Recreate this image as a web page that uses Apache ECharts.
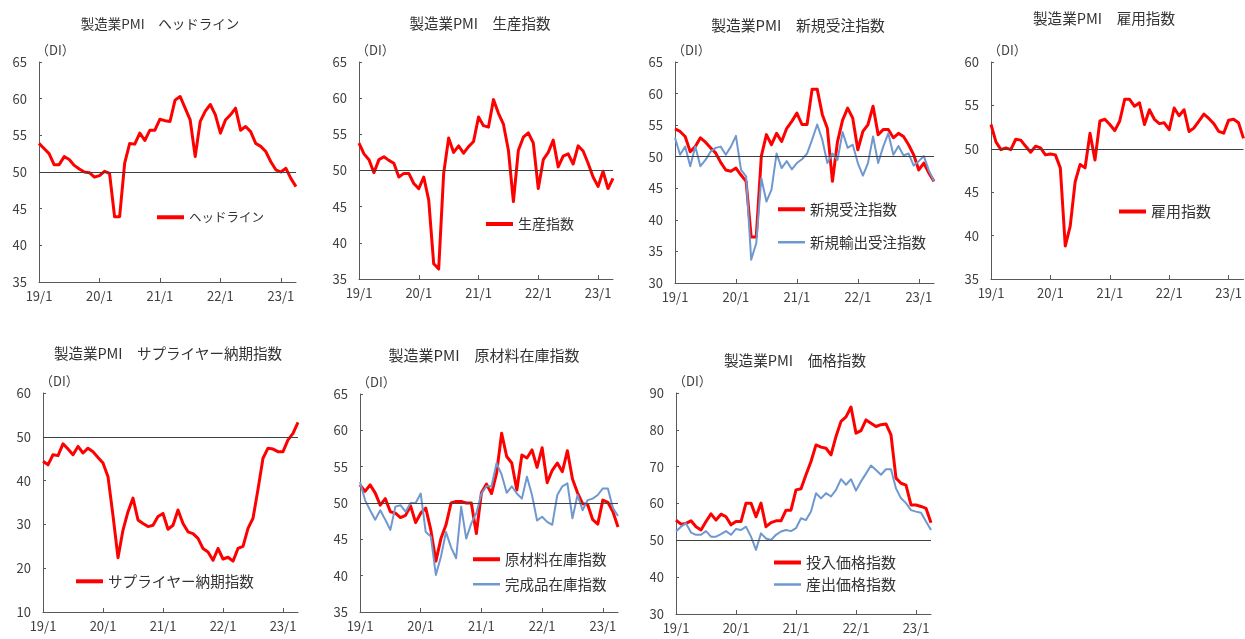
<!DOCTYPE html>
<html>
<head>
<meta charset="utf-8">
<script src="https://cdn.jsdelivr.net/npm/echarts@6/dist/echarts.min.js"></script>
<style>
html,body{margin:0;padding:0;background:#fff;}
#c{width:1245px;height:639px;}
</style>
</head>
<body>
<div id="c"></div>
<script>
// ---- data ----
const months = [
 '19/1','19/2','19/3','19/4','19/5','19/6','19/7','19/8','19/9','19/10','19/11','19/12',
 '20/1','20/2','20/3','20/4','20/5','20/6','20/7','20/8','20/9','20/10','20/11','20/12',
 '21/1','21/2','21/3','21/4','21/5','21/6','21/7','21/8','21/9','21/10','21/11','21/12',
 '22/1','22/2','22/3','22/4','22/5','22/6','22/7','22/8','22/9','22/10','22/11','22/12',
 '23/1','23/2','23/3','23/4'
];
const xTickLabels = ['19/1','20/1','21/1','22/1','23/1'];

const headline = [53.9,53.2,52.5,51.0,51.0,52.1,51.7,50.9,50.4,50.0, 49.9,49.3,49.5,50.1,49.8,43.9,43.9,51.2,53.9,53.8, 55.3,54.3,55.7,55.7,57.2,57.0,56.9,59.8,60.3,58.7, 57.1,52.1,56.9,58.3,59.2,57.8,55.3,57.1,57.8,58.7, 55.7,56.2,55.5,53.9,53.5,52.8,51.4,50.3,50.0,50.5, 49.1,48.0];
const production = [53.8,52.3,51.5,49.7,51.5,51.9,51.4,51.0,49.1,49.6, 49.6,48.2,47.5,49.1,45.9,37.1,36.4,49.6,54.5,52.5, 53.4,52.4,53.3,54.0,57.4,56.2,56.0,59.8,57.9,56.4, 52.8,45.7,52.8,54.6,55.2,53.8,47.5,51.5,52.5,54.2, 50.5,52.0,52.3,50.9,53.4,52.7,51.0,49.1,47.8,49.9, 47.5,48.9];
const newOrders = [54.4,54.0,53.2,50.8,51.6,53.0,52.3,51.4,50.6,49.1, 47.9,47.7,48.2,47.1,46.1,37.3,37.3,50.1,53.5,51.9, 53.7,52.4,54.5,55.6,56.9,55.1,55.1,60.7,60.7,56.7, 54.5,46.1,52.4,55.8,57.7,56.1,51.1,54.0,55.1,58.0, 53.5,54.3,54.3,53.0,53.7,53.2,51.9,50.3,47.9,49.0, 47.4,46.1];
const newExportOrders = [53.0,50.3,51.6,48.5,51.6,48.5,49.5,50.8,51.4,51.6, 50.3,51.6,53.3,47.9,46.9,33.7,36.3,46.6,42.9,44.8, 50.5,48.2,49.3,48.0,49.0,49.6,50.5,52.7,55.1,52.7, 49.0,50.5,49.5,53.9,51.4,51.9,49.0,47.0,49.0,53.2, 49.0,51.6,53.7,50.3,51.7,50.2,50.5,48.6,49.3,50.1, 47.8,46.1];
const employment = [52.8,50.8,49.9,50.1,49.9,51.1,51.0,50.3,49.6,50.3, 50.1,49.3,49.4,49.3,47.8,38.8,41.1,46.2,48.2,47.8, 51.8,48.7,53.2,53.4,52.8,52.1,53.2,55.7,55.7,54.9, 55.3,52.8,54.5,53.4,52.9,53.0,52.2,54.7,53.8,54.5, 52.0,52.4,53.2,54.0,53.5,52.9,52.0,51.8,53.3,53.4, 53.0,51.2];
const supplierDeliveries = [44.4,43.6,45.9,45.7,48.4,47.2,45.9,47.8,46.3,47.4, 46.6,45.3,44.0,40.9,32.0,22.4,28.7,32.9,36.0,31.0, 30.2,29.5,29.8,31.8,32.5,28.9,29.8,33.3,30.2,28.3, 27.9,26.8,24.5,23.7,21.8,24.5,22.1,22.5,21.6,24.5, 25.0,29.1,31.4,38.0,45.1,47.4,47.2,46.6,46.6,49.3, 50.8,53.3];
const rawMaterialInventory = [52.5,51.6,52.5,51.4,49.7,50.6,48.8,48.6,48.0,48.3, 49.6,47.3,48.6,49.3,46.3,42.0,45.1,47.0,50.0,50.2, 50.2,50.0,50.0,45.8,51.4,52.6,51.3,54.1,59.6,56.4, 55.5,51.8,56.6,56.2,57.3,54.9,57.6,52.8,54.5,55.5, 54.3,57.2,53.3,51.4,49.9,49.8,47.7,47.1,50.4,50.1, 48.8,46.7];
const finishedGoodsInventory = [52.9,50.4,49.0,47.7,49.0,47.7,46.3,49.5,49.7,48.8, 50.0,50.0,51.3,46.0,45.4,40.1,42.6,46.0,43.9,42.4, 49.5,45.1,47.2,48.6,51.3,52.3,52.3,55.5,53.9,51.4, 52.3,51.3,50.6,53.6,51.1,47.6,48.1,47.4,47.0,51.1, 52.3,52.7,47.9,51.1,49.0,50.4,50.6,51.1,52.0,52.0, 49.3,48.2];
const inputPrices = [55.5,54.4,54.6,55.3,53.7,52.8,55.1,57.2,55.5,57.1, 56.4,54.2,55.1,55.1,60.1,60.1,56.4,60.1,53.7,54.8, 55.3,55.3,58.2,58.2,63.7,64.0,67.8,71.4,75.9,75.3, 75.0,73.2,78.2,82.3,83.5,86.2,79.1,79.8,82.7,81.8, 80.9,81.4,81.6,78.6,66.9,65.5,65.0,59.6,59.6,59.2, 58.7,54.8];
const outputPrices = [52.4,53.7,54.6,52.1,51.5,51.5,52.5,51.0,51.0,51.7, 52.5,51.5,53.1,52.8,53.7,51.0,47.4,51.9,50.5,50.1, 51.5,52.4,52.8,52.5,53.3,56.0,55.5,57.8,62.8,61.4, 62.8,61.9,63.7,66.6,65.1,66.6,63.5,66.0,68.1,70.3, 69.1,67.8,69.3,69.3,64.1,61.4,60.1,58.2,57.8,57.5, 55.1,52.8];

const titles = ['製造業PMI　ヘッドライン','製造業PMI　生産指数','製造業PMI　新規受注指数','製造業PMI　雇用指数',
                '製造業PMI　サプライヤー納期指数','製造業PMI　原材料在庫指数','製造業PMI　価格指数'];
const yRanges = [[35,65,5],[35,65,5],[30,65,5],[35,60,5],[10,60,10],[35,65,5],[30,90,10]];
const refLevel = 50;

// ---- layout ----
const FONT = '"Noto Sans CJK JP","Noto Sans",sans-serif';
const RED = '#ff0000', BLUE = '#6f98cf';
const panels = [
 {grid:{left:39,top:62,width:257,height:220}, title:[160,25], tfs:13.5, lfs:12.5,
  series:[{name:'ヘッドライン',data:headline,color:RED,w:3,leg:[157,218]}]},
 {grid:{left:359,top:62,width:254,height:217}, title:[480,25], tfs:14.5, lfs:14,
  series:[{name:'生産指数',data:production,color:RED,w:3,leg:[486,225]}]},
 {grid:{left:675,top:62,width:259,height:221}, title:[798,27], tfs:14.8, lfs:14.5,
  series:[{name:'新規受注指数',data:newOrders,color:RED,w:3,leg:[778,210]},
          {name:'新規輸出受注指数',data:newExportOrders,color:BLUE,w:2,leg:[778,243]}]},
 {grid:{left:991,top:62,width:254,height:217}, title:[1104,20], tfs:14.6, lfs:15,
  series:[{name:'雇用指数',data:employment,color:RED,w:3,leg:[1119,212]}]},
 {grid:{left:43,top:393,width:255,height:219}, title:[168,355], tfs:14.5, lfs:14.6,
  series:[{name:'サプライヤー納期指数',data:supplierDeliveries,color:RED,w:3,leg:[76,582]}]},
 {grid:{left:360,top:394,width:258,height:218}, title:[484,357], tfs:15, lfs:14.5,
  series:[{name:'原材料在庫指数',data:rawMaterialInventory,color:RED,w:3,leg:[473,560]},
          {name:'完成品在庫指数',data:finishedGoodsInventory,color:BLUE,w:2,leg:[473,585]}]},
 {grid:{left:676,top:393,width:255,height:221}, title:[795,362], tfs:14.6, lfs:15,
  series:[{name:'投入価格指数',data:inputPrices,color:RED,w:3,leg:[774,563]},
          {name:'産出価格指数',data:outputPrices,color:BLUE,w:2,leg:[774,585]}]}
];

const AX = '#595959', TXT = '#404040';
const option = {animation:false, backgroundColor:'#fff', grid:[], xAxis:[], yAxis:[], series:[], title:[], legend:[]};
panels.forEach((p,i)=>{
  option.grid.push(Object.assign({containLabel:false}, p.grid));
  option.title.push({text:titles[i], left:p.title[0], top:p.title[1]-Math.round(p.tfs*0.6), textAlign:'center', padding:0,
    textStyle:{fontFamily:FONT,fontSize:p.tfs,fontWeight:'normal',color:'#333'}});
  option.xAxis.push({type:'category', gridIndex:i, data:months, boundaryGap:false,
    axisLine:{lineStyle:{color:AX,width:1}},
    axisTick:{show:true,inside:true,length:4,interval:11,lineStyle:{color:AX}},
    axisLabel:{interval:11, margin:8, fontSize:13, color:TXT, fontFamily:FONT,
      formatter:v=> xTickLabels.indexOf(v)>=0 ? v : ''},
    splitLine:{show:false}});
  const r = yRanges[i];
  option.yAxis.push({type:'value', gridIndex:i, min:r[0], max:r[1], interval:r[2],
    name:'（DI）', nameLocation:'end', nameGap:5,
    nameTextStyle:{align:'left', fontSize:13, color:TXT, fontFamily:FONT, padding:[0,0,0,-3]},
    axisLine:{show:true,lineStyle:{color:AX,width:1}},
    axisTick:{show:true,inside:true,length:3,lineStyle:{color:AX}},
    axisLabel:{margin:12,fontSize:13,color:TXT,fontFamily:FONT},
    splitLine:{show:false}});
  p.series.forEach((s,k)=>{
    const ser = {type:'line', name:s.name, xAxisIndex:i, yAxisIndex:i, data:s.data,
      symbol:'none', smooth:false, z:2+k,
      lineStyle:{color:s.color,width:s.w,join:'round'}, itemStyle:{color:s.color}};
    if(k===0){
      ser.markLine = {silent:true, symbol:['none','none'], label:{show:false},
        lineStyle:{color:'#404040',width:1,type:'solid'}, data:[{yAxis:refLevel}]};
    }
    option.series.push(ser);
    option.legend.push({data:[{name:s.name, icon:'rect'}], left:s.leg[0], top:s.leg[1]-Math.round(p.lfs*0.55), padding:0,
      itemWidth:27, itemHeight:s.w===3?4:2.5, selectedMode:false,
      textStyle:{fontFamily:FONT,fontSize:p.lfs,color:'#333'}});
  });
});

const chart = echarts.init(document.getElementById('c'), null, {renderer:'canvas'});
chart.setOption(option);
</script>
</body>
</html>
